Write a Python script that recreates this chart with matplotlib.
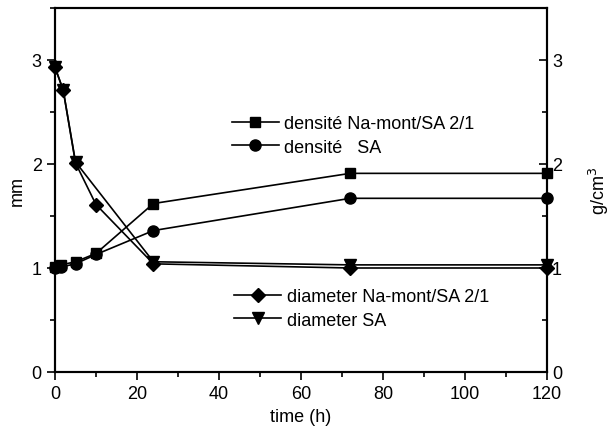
import matplotlib
matplotlib.use("Agg")
import matplotlib.pyplot as plt
from matplotlib.ticker import MultipleLocator

plt.rcParams['font.family'] = ['Liberation Sans', 'DejaVu Sans']

t_dens = [0, 1.5, 5, 10, 24, 72, 120]
dens_namont = [1.01, 1.03, 1.06, 1.14, 1.62, 1.91, 1.91]
dens_sa = [1.0, 1.01, 1.04, 1.13, 1.36, 1.67, 1.67]

t_diam_namont = [0, 2, 5, 10, 24, 72, 120]
diam_namont = [2.93, 2.71, 2.01, 1.61, 1.04, 1.0, 1.0]
t_diam_sa = [0, 2, 5, 24, 72, 120]
diam_sa = [2.93, 2.71, 2.02, 1.06, 1.03, 1.03]

fig = plt.figure(figsize=(6.1, 4.35), dpi=100)
ax = fig.add_axes([55/610, 1-373/435, (547-55)/610, (373-9)/435])
ax2 = ax.twinx()

fs = 13
l4, = ax.plot(t_diam_sa, diam_sa, color='black', marker='v', ms=8, lw=1.2,
              label='diameter SA', clip_on=False, zorder=3)
l3, = ax.plot(t_diam_namont, diam_namont, color='black', marker='D', ms=7, lw=1.2,
              label='diameter Na-mont/SA 2/1', clip_on=False, zorder=4)
l1, = ax2.plot(t_dens, dens_namont, color='black', marker='s', ms=7, lw=1.2,
               label='densité Na-mont/SA 2/1', clip_on=False)
l2, = ax2.plot(t_dens, dens_sa, color='black', marker='o', ms=8, lw=1.2,
               label='densité   SA', clip_on=False)

ax.set_xlim(0, 120)
ax.set_ylim(0, 3.5)
ax2.set_ylim(0, 3.5)
ax.xaxis.set_major_locator(MultipleLocator(20))
ax.xaxis.set_minor_locator(MultipleLocator(10))
ax.yaxis.set_major_locator(MultipleLocator(1))
ax.yaxis.set_minor_locator(MultipleLocator(0.5))
ax2.yaxis.set_major_locator(MultipleLocator(1))
ax2.yaxis.set_minor_locator(MultipleLocator(0.5))

ax.tick_params(axis='both', which='major', direction='out', length=6, width=1.2, labelsize=fs)
ax.tick_params(axis='both', which='minor', direction='out', length=3.5, width=1.2)
ax2.tick_params(axis='y', which='major', direction='in', length=6, width=1.2, labelsize=fs)
ax2.tick_params(axis='y', which='minor', direction='in', length=3.5, width=1.2)

for a in (ax, ax2):
    for s in a.spines.values():
        s.set_linewidth(1.5)

ax.set_xlabel('time (h)', fontsize=fs)
ax.set_ylabel('mm', fontsize=fs)
ax2.set_ylabel('g/cm$^3$', fontsize=fs, labelpad=18)

leg1 = ax2.legend(handles=[l1, l2], loc='upper left', bbox_to_anchor=(0.345, 0.725),
                  frameon=False, fontsize=fs, handlelength=2.6, handletextpad=0.3,
                  labelspacing=0.35, borderaxespad=0)
leg2 = ax2.legend(handles=[l3, l4], loc='upper left', bbox_to_anchor=(0.35, 0.25),
                  frameon=False, fontsize=fs, handlelength=2.6, handletextpad=0.3,
                  labelspacing=0.35, borderaxespad=0)
ax2.add_artist(leg1)

fig.savefig('out.png', dpi=100)
